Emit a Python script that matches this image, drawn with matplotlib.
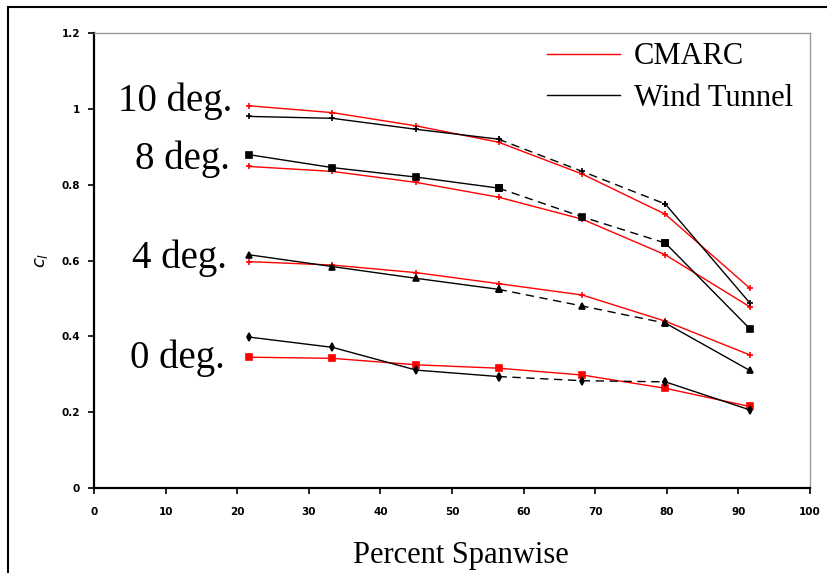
import matplotlib
matplotlib.use("Agg")
import matplotlib.pyplot as plt
from matplotlib.patches import Rectangle

# spanwise stations (percent of span)
span = [21.7, 33.3, 45.0, 56.5, 68.2, 79.8, 91.6]

# CMARC predictions
cmarc_10 = [1.008, 0.990, 0.955, 0.912, 0.828, 0.722, 0.527]
cmarc_8 = [0.848, 0.835, 0.806, 0.767, 0.709, 0.615, 0.478]
cmarc_4 = [0.597, 0.588, 0.568, 0.539, 0.509, 0.440, 0.351]
cmarc_0 = [0.345, 0.342, 0.325, 0.316, 0.298, 0.263, 0.215]

# wind tunnel measurements
wt_10 = [0.980, 0.975, 0.946, 0.920, 0.835, 0.749, 0.488]
wt_8 = [0.879, 0.845, 0.820, 0.791, 0.715, 0.646, 0.420]
wt_4 = [0.615, 0.584, 0.553, 0.524, 0.480, 0.435, 0.310]
wt_0 = [0.398, 0.371, 0.311, 0.294, 0.283, 0.280, 0.206]

angle_labels = ["10 deg.", "8 deg.", "4 deg.", "0 deg."]
label_pos = [(3.4, 0.995), (5.7, 0.842), (5.3, 0.581), (5.0, 0.317)]

xticks = list(range(0, 101, 10))
yticks = [0, 0.2, 0.4, 0.6, 0.8, 1, 1.2]
yticklabels = ["0", "0.2", "0.4", "0.6", "0.8", "1", "1.2"]

serif = ["Liberation Serif", "DejaVu Serif"]

fig = plt.figure(figsize=(8.27, 5.73), dpi=100)
ax = fig.add_axes([0.1137, 0.1483, 0.8657, 0.7941])

red = "#ff0000"
cmarc = [cmarc_10, cmarc_8, cmarc_4, cmarc_0]
wt = [wt_10, wt_8, wt_4, wt_0]
red_mk = ["+", "+", "+", "s"]
blk_mk = ["+", "s", "^", "d"]

for c, m in zip(cmarc, red_mk):
    ax.plot(span, c, color=red, lw=1.0, marker=m, ms=4, mew=1.2, zorder=3)

for w, m in zip(wt, blk_mk):
    # measured segments solid, middle stretch drawn dashed
    ax.plot(span[:4], w[:4], color="black", lw=1.0, marker=m, ms=4, mew=1.2, zorder=4)
    ax.plot(span[3:6], w[3:6], color="black", lw=1.0, ls=(0, (6, 4)),
            marker=m, ms=4, mew=1.2, zorder=4)
    ax.plot(span[5:], w[5:], color="black", lw=1.0, marker=m, ms=4, mew=1.2, zorder=4)

for txt, (x, y) in zip(angle_labels, label_pos):
    ax.text(x, y, txt, family=serif, fontsize=28, ha="left", va="baseline")

# legend entries
ax.plot([], [], color=red, lw=1.0, label="CMARC")
ax.plot([], [], color="black", lw=1.0, label="Wind Tunnel")
handles, labels = ax.get_legend_handles_labels()
leg = ax.legend(handles[-2:], labels[-2:], loc="upper left",
                bbox_to_anchor=(0.594, 1.04), frameon=False,
                prop={"family": serif, "size": 22},
                handlelength=2.4, handletextpad=0.45, labelspacing=0.41)

ax.set_xlim(0, 100)
ax.set_ylim(0, 1.2)
ax.set_xticks(xticks)
ax.set_xticklabels([str(t) for t in xticks])
ax.set_yticks(yticks)
ax.set_yticklabels(yticklabels)
ax.tick_params(direction="out", length=4, width=1.2, labelsize=7.5, pad=10)
for lab in ax.get_xticklabels() + ax.get_yticklabels():
    lab.set_fontweight("bold")
ax.tick_params(axis="y", pad=6)

for s in ["left", "bottom"]:
    ax.spines[s].set_linewidth(1.6)
    ax.spines[s].set_color("black")
for s in ["top", "right"]:
    ax.spines[s].set_linewidth(1.0)
    ax.spines[s].set_color("#999999")

ax.set_xlabel("Percent Spanwise", family=serif, fontsize=22, labelpad=17, x=0.513)
ax.set_ylabel("$c_l$", fontsize=13, labelpad=8)

# outer frame around the whole figure
fig.patches.append(Rectangle((8 / 827, -0.02), 1.0, 1.02 - 7 / 573,
                             transform=fig.transFigure, fill=False,
                             lw=1.5, edgecolor="black"))

fig.savefig("out.png", dpi=100)
